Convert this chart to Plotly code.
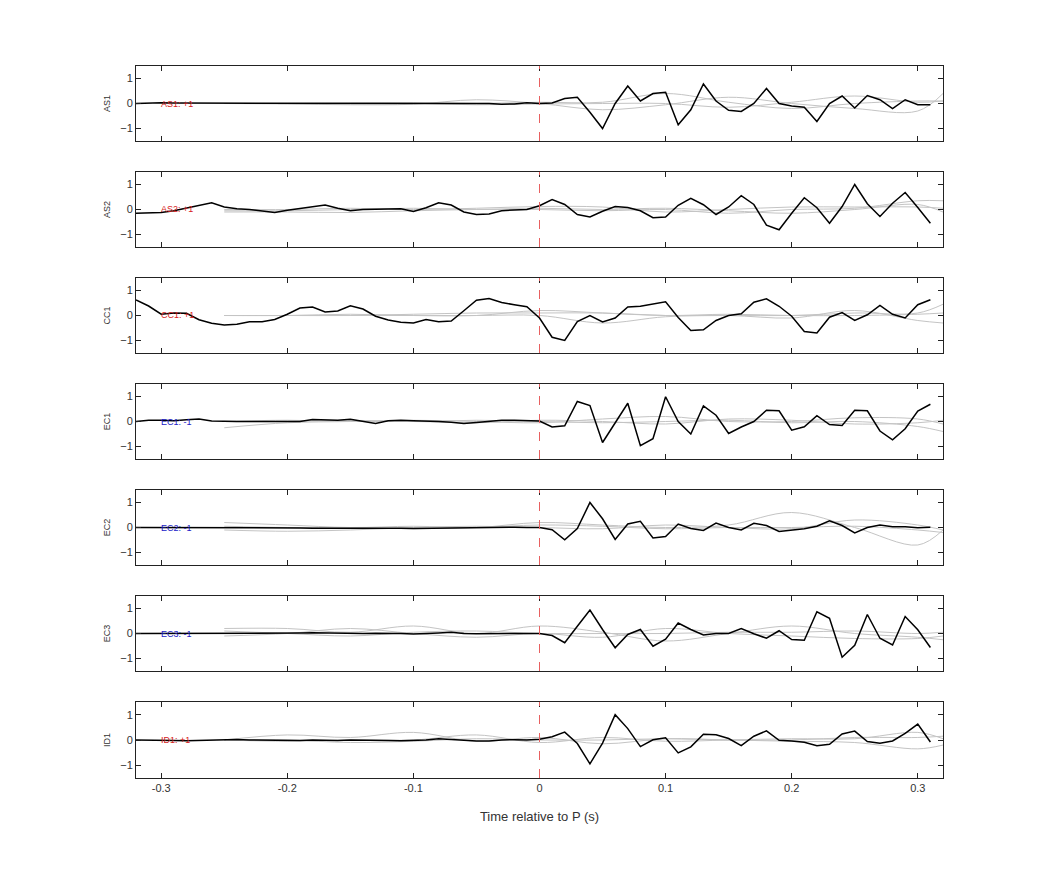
import numpy as np
import plotly.graph_objects as go

stations = ["AS1", "AS2", "CC1", "EC1", "EC2", "EC3", "ID1"]
polarity = ["+1", "+1", "+1", "-1", "-1", "-1", "+1"]
times = [round(-0.32 + 0.01 * i, 2) for i in range(64)]

as1 = [0.0, 0.02, 0.03, 0.02, 0.02, 0.01, 0.0, 0.01, 0.02, 0.01, 0.0, 0.0, 0.01, -0.01, 0.0, 0.01,
       0.01, 0.01, 0.0, 0.01, 0.0, 0.0, 0.0, 0.01, 0.0, 0.0, 0.01, 0.01, 0.0, -0.03, -0.02, 0.03,
       0.0, 0.02, 0.2, 0.25, -0.35, -1.0, 0.0, 0.7, 0.1, 0.4, 0.45, -0.85, -0.25, 0.78, 0.1, -0.27,
       -0.32, 0.0, 0.6, 0.0, -0.1, -0.15, -0.72, 0.0, 0.3, -0.18, 0.32, 0.15, -0.2, 0.15, -0.05, -0.05]
as2 = [-0.15, -0.15, -0.12, -0.05, 0.05, 0.15, 0.27, 0.1, 0.03, 0.0, -0.05, -0.12, -0.03, 0.05, 0.1, 0.18,
       0.05, -0.05, 0.0, 0.0, 0.02, 0.03, -0.08, 0.07, 0.27, 0.18, -0.1, -0.2, -0.18, -0.05, -0.02, 0.0,
       0.15, 0.4, 0.2, -0.2, -0.3, -0.07, 0.12, 0.08, -0.05, -0.33, -0.3, 0.17, 0.45, 0.19, -0.2, 0.1,
       0.55, 0.2, -0.63, -0.81, -0.15, 0.47, 0.07, -0.55, 0.12, 1.0, 0.23, -0.28, 0.25, 0.68, 0.08, -0.55]
cc1 = [0.62, 0.38, 0.05, 0.1, 0.09, -0.17, -0.31, -0.38, -0.35, -0.25, -0.25, -0.16, 0.05, 0.3, 0.34, 0.14,
       0.18, 0.39, 0.26, -0.03, -0.18, -0.27, -0.3, -0.16, -0.25, -0.22, 0.19, 0.61, 0.68, 0.52, 0.43, 0.35,
       -0.1, -0.87, -1.0, -0.24, 0.0, -0.26, -0.1, 0.34, 0.37, 0.47, 0.55, -0.08, -0.6, -0.57, -0.2, 0.0,
       0.07, 0.53, 0.67, 0.37, -0.03, -0.64, -0.7, -0.07, 0.12, -0.2, 0.03, 0.4, 0.05, -0.1, 0.43, 0.63]
ec1 = [0.0, 0.05, 0.05, 0.03, 0.07, 0.1, 0.02, 0.0, 0.0, 0.0, 0.0, 0.0, 0.0, 0.0, 0.08, 0.05,
       0.05, 0.09, 0.02, -0.08, 0.03, 0.05, 0.03, 0.02, 0.0, -0.03, -0.08, -0.04, 0.0, 0.05, 0.05, 0.03,
       0.02, -0.22, -0.17, 0.8, 0.64, -0.84, -0.05, 0.73, -0.97, -0.69, 0.99, 0.0, -0.5, 0.62, 0.25, -0.48,
       -0.22, 0.0, 0.45, 0.43, -0.35, -0.21, 0.23, -0.12, -0.16, 0.45, 0.43, -0.38, -0.73, -0.29, 0.42, 0.69]
ec2 = [0.0, 0.0, 0.01, 0.0, 0.0, 0.0, 0.01, 0.0, -0.01, 0.0, 0.0, 0.0, 0.0, -0.02, -0.03, -0.04,
       -0.04, -0.03, -0.03, -0.02, -0.02, -0.03, -0.04, -0.03, -0.03, -0.02, -0.02, -0.01, 0.0, 0.0, 0.01, 0.0,
       0.0, -0.09, -0.49, -0.04, 1.0, 0.35, -0.48, 0.14, 0.25, -0.42, -0.36, 0.14, -0.04, -0.12, 0.18, 0.0,
       -0.1, 0.17, 0.08, -0.16, -0.12, -0.05, 0.05, 0.27, 0.08, -0.22, 0.0, 0.1, 0.03, 0.03, -0.01, 0.01]
ec3 = [0.0, 0.0, 0.01, 0.0, 0.0, -0.01, 0.0, 0.01, 0.02, 0.0, -0.01, 0.0, 0.0, 0.02, 0.03, 0.02,
       0.0, -0.02, 0.0, 0.01, 0.02, 0.0, -0.02, -0.01, 0.02, 0.05, 0.0, -0.01, 0.0, 0.02, 0.0, 0.0,
       0.0, -0.08, -0.37, 0.29, 0.94, 0.16, -0.57, -0.04, 0.16, -0.51, -0.23, 0.42, 0.16, -0.06, 0.0, 0.0,
       0.2, -0.01, -0.19, 0.11, -0.24, -0.27, 0.87, 0.61, -0.95, -0.47, 0.76, -0.19, -0.46, 0.68, 0.15, -0.56]
id1 = [0.0, 0.0, -0.01, -0.02, -0.03, -0.02, 0.0, 0.02, 0.02, 0.0, -0.01, 0.0, 0.0, -0.02, 0.0, -0.02,
       -0.02, 0.0, 0.0, -0.01, -0.02, -0.03, -0.02, 0.0, 0.05, 0.02, -0.02, -0.04, -0.04, 0.0, 0.01, 0.0,
       0.03, 0.13, 0.31, -0.14, -0.94, -0.12, 1.0, 0.45, -0.26, 0.01, 0.09, -0.51, -0.27, 0.23, 0.21, 0.06,
       -0.22, 0.15, 0.36, -0.01, -0.04, -0.09, -0.23, -0.17, 0.24, 0.35, -0.06, -0.13, -0.04, 0.26, 0.63, -0.08]
observed = [as1, as2, cc1, ec1, ec2, ec3, id1]

# synthetic (gray) traces, sampled every 0.05 s
syn_t = [-0.25, -0.2, -0.15, -0.1, -0.05, 0.0, 0.05, 0.1, 0.15, 0.2, 0.25, 0.3, 0.32]
synthetics = [
    [[0.0, -0.02, -0.05, -0.03, 0.15, 0.0, -0.25, -0.05, 0.25, 0.0, -0.2, -0.3, 0.4],
     [0.0, 0.0, 0.02, 0.03, 0.0, 0.05, 0.05, 0.4, 0.05, -0.2, 0.0, 0.1, 0.1],
     [0.0, 0.0, 0.0, 0.0, -0.05, -0.02, 0.0, 0.0, -0.15, 0.05, 0.3, 0.05, 0.1]],
    [[-0.1, -0.1, -0.12, -0.05, 0.0, 0.0, -0.05, 0.0, -0.15, 0.0, 0.05, 0.35, 0.35],
     [0.0, 0.0, 0.05, 0.0, 0.05, 0.12, 0.1, -0.1, 0.0, 0.1, 0.1, 0.1, 0.05],
     [-0.05, -0.05, 0.0, 0.05, 0.0, 0.05, 0.0, 0.05, -0.05, -0.15, 0.0, 0.2, -0.1]],
    [[0.0, 0.0, 0.0, 0.05, 0.1, 0.1, 0.1, 0.0, 0.0, 0.0, 0.1, 0.1, 0.45],
     [0.0, 0.0, 0.0, 0.0, 0.0, 0.0, -0.3, -0.05, 0.0, -0.1, 0.2, -0.2, -0.3],
     [0.0, 0.0, 0.05, 0.0, 0.0, 0.2, 0.1, 0.0, 0.05, 0.0, 0.0, 0.05, 0.1]],
    [[-0.25, -0.05, 0.0, 0.05, 0.0, -0.05, 0.1, 0.2, 0.0, 0.0, 0.15, 0.1, -0.1],
     [0.0, 0.0, 0.05, 0.0, 0.05, 0.0, -0.05, 0.0, 0.05, -0.05, 0.0, -0.2, -0.4],
     [0.0, 0.05, 0.0, 0.0, -0.05, 0.05, 0.0, -0.1, 0.1, 0.05, -0.1, -0.05, 0.05]],
    [[0.2, 0.1, 0.0, 0.05, 0.0, 0.2, 0.1, 0.0, 0.1, 0.6, 0.0, -0.7, -0.1],
     [-0.1, -0.15, -0.1, 0.0, 0.05, 0.0, -0.05, 0.1, 0.0, -0.05, 0.3, 0.1, -0.1],
     [0.05, 0.0, 0.0, -0.05, 0.0, 0.1, 0.05, -0.05, 0.0, 0.0, 0.05, -0.1, -0.2]],
    [[0.2, 0.2, 0.05, 0.3, 0.0, 0.3, 0.05, -0.3, 0.0, 0.3, 0.0, -0.15, -0.25],
     [-0.1, 0.0, 0.2, 0.0, -0.15, 0.0, -0.15, 0.2, 0.0, -0.1, -0.2, -0.2, -0.1],
     [0.1, 0.0, -0.1, 0.05, 0.1, 0.0, 0.0, 0.0, 0.05, 0.05, 0.1, 0.0, 0.05]],
    [[0.0, 0.2, 0.1, 0.3, -0.05, 0.1, -0.15, 0.05, 0.0, -0.05, -0.1, -0.35, -0.2],
     [0.0, -0.05, 0.0, 0.0, 0.2, -0.1, 0.1, -0.05, 0.0, 0.05, 0.05, 0.3, 0.05],
     [0.0, 0.0, -0.1, -0.05, 0.05, 0.0, 0.0, 0.05, 0.0, 0.0, 0.1, 0.1, 0.15]],
]

x_ticks = [-0.3, -0.2, -0.1, 0, 0.1, 0.2, 0.3]
x_tick_text = ["-0.3", "-0.2", "-0.1", "0", "0.1", "0.2", "0.3"]
y_ticks = [-1, 0, 1]

H = 875.0
W = 1042.0
OFF = 8  # page body margin
panel_px = [(66, 141), (172, 247), (278, 353), (384, 459), (490, 565), (596, 671), (702, 778)]

fig = go.Figure()
layout = dict(width=1042, height=875, plot_bgcolor="white", paper_bgcolor="white",
              margin=dict(l=0, r=0, t=0, b=0), showlegend=False,
              font=dict(family="Liberation Sans, Arial", size=11, color="#333"))
annotations = []
shapes = []
for i, st in enumerate(stations):
    n = "" if i == 0 else str(i + 1)
    xa, ya = "x" + n, "y" + n
    for s in synthetics[i]:
        fig.add_trace(go.Scatter(x=syn_t, y=s, mode="lines", xaxis=xa, yaxis=ya,
                                 line=dict(color="#c4c4c4", width=1, shape="spline", smoothing=1.0),
                                 hoverinfo="skip"))
    fig.add_trace(go.Scatter(x=times, y=observed[i], mode="lines", xaxis=xa, yaxis=ya,
                             line=dict(color="black", width=1.5)))
    top, bot = panel_px[i]
    top -= OFF
    bot -= OFF
    layout["xaxis" + n] = dict(domain=[(136 - OFF) / W, (943 - OFF) / W], range=[-0.32, 0.32], anchor=ya,
                               tickvals=x_ticks, ticktext=x_tick_text, ticks="inside", ticklen=5,
                               showticklabels=(i == len(stations) - 1), showgrid=False, zeroline=False,
                               showline=True, linecolor="#222", linewidth=1, mirror="ticks",
                               tickcolor="#222", tickfont=dict(color="#333"),
                               title=dict(text="Time relative to P (s)", standoff=18) if i == len(stations) - 1 else None)
    layout["yaxis" + n] = dict(domain=[1 - bot / H, 1 - top / H], range=[-1.5, 1.5], anchor=xa,
                               tickvals=y_ticks, ticks="inside", ticklen=5, showgrid=False,
                               zeroline=False, showline=True, linecolor="#222", linewidth=1,
                               mirror="ticks", tickcolor="#222", tickfont=dict(color="#333"),
                               title=dict(text=st, font=dict(size=9, color="#333"), standoff=8))
    col = "#d62020" if polarity[i] == "+1" else "#2020c8"
    annotations.append(dict(x=-0.302, y=0, xref=xa, yref=ya, text=f"{st}: {polarity[i]}",
                            showarrow=False, xanchor="left", font=dict(size=9, color=col)))
    shapes.append(dict(type="line", x0=0, x1=0, y0=0, y1=1, xref=xa, yref=ya + " domain",
                       line=dict(color="#e86060", width=1, dash="dash")))
layout["annotations"] = annotations
layout["shapes"] = shapes
fig.update_layout(**layout)
fig.write_html("out.html")
